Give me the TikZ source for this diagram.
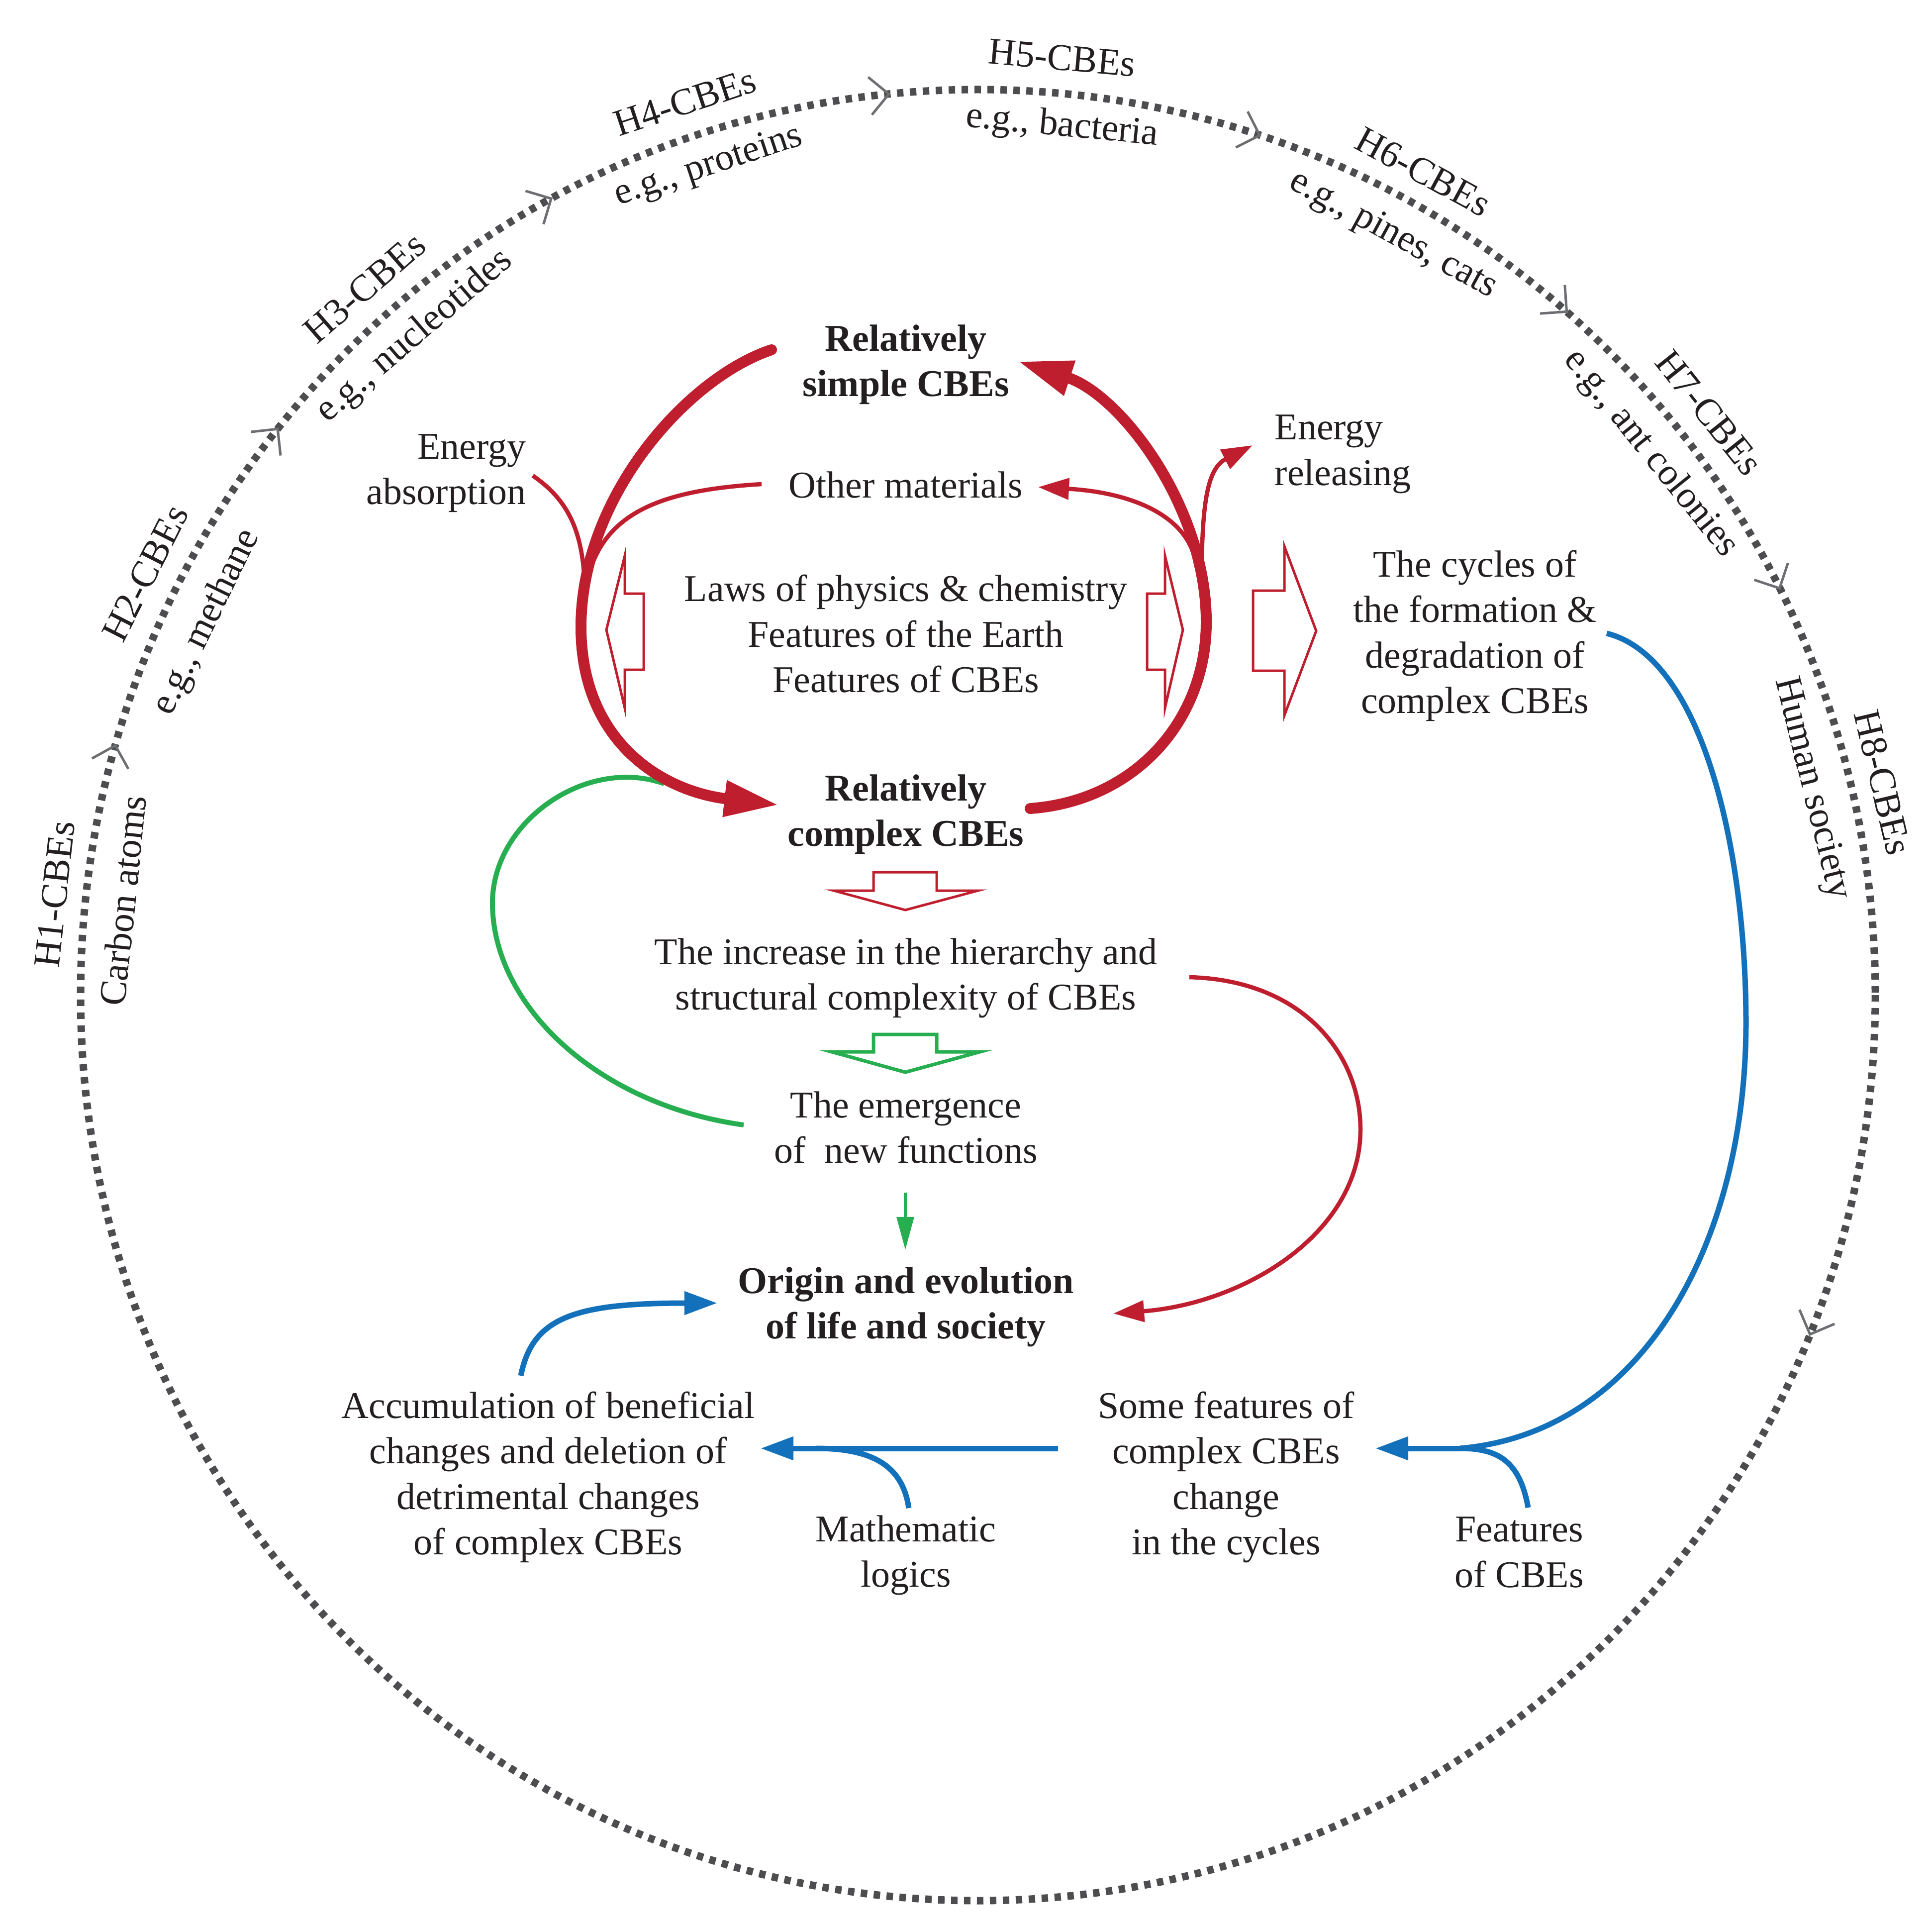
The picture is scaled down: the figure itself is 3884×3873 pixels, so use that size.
\documentclass[tikz,border=0pt]{standalone}
\usepackage{fontspec}
\setmainfont{Liberation Serif}
\usetikzlibrary{arrows.meta}
\definecolor{cred}{RGB}{190,30,45}
\definecolor{cblue}{RGB}{18,113,186}
\definecolor{cgreen}{RGB}{39,174,80}
\definecolor{cgray}{RGB}{77,77,79}
\definecolor{cchev}{RGB}{109,110,113}
\definecolor{ctext}{RGB}{35,31,32}
\tikzset{
  txt/.style={font=\fontsize{21.6}{26}\selectfont, text=ctext, inner sep=0pt, align=center},
  btxt/.style={txt, font=\fontsize{21.6}{26}\selectfont\bfseries},
  thickred/.style={draw=cred, line width=0.22cm, line cap=round},
  thinred/.style={draw=cred, line width=0.085cm},
  blueline/.style={draw=cblue, line width=0.11cm},
  greenline/.style={draw=cgreen, line width=0.1cm},
  greenthin/.style={draw=cgreen, line width=0.06cm},
  hollowred/.style={draw=cred, fill=white, line width=0.05cm, line join=miter},
  hollowgreen/.style={draw=cgreen, fill=white, line width=0.07cm, line join=miter},
  dotring/.style={draw=cgray, line width=0.15cm, dash pattern=on 0.13cm off 0.13cm},
  chev/.style={draw=cchev, line width=0.05cm},
  bigtip/.tip={Triangle[length=1.1cm, width=0.68cm]},
  thintip/.tip={Triangle[length=0.62cm, width=0.42cm]},
  bluetip/.tip={Triangle[length=0.66cm, width=0.45cm]},
  greentip/.tip={Triangle[length=0.66cm, width=0.34cm]},
}
\begin{document}
\begin{tikzpicture}[x=0.01cm, y=-0.01cm]
\useasboundingbox (0,0) rectangle (3884,3873);

% outer dotted ring
\coordinate (C) at (1966,2000);
\draw[dotring] (C) ellipse [x radius=1804, y radius=1820];

% chevrons on the ring (clockwise travel)
\foreach \a in {164.0,141.3,118.4,95.7,71.7,49.0,26.7,-22.0}{
  \draw[chev, shift={({1966+1804*cos(\a)},{2000-1820*sin(\a)})}, rotate=\a-90]
    (-38,-38) -- (0,0) -- (-38,38);
}

% ring labels
\node[txt, rotate=83.7] (h1) at (110,1797) {H1-CBEs};
\node[txt, rotate=84] (h1e) at (247,1810) {Carbon atoms};
\node[txt, rotate=63] (h2) at (292,1152) {H2-CBEs};
\node[txt, rotate=64] (h2e) at (416,1251) {e.g., methane};
\node[txt, rotate=41] (h3) at (733,578) {H3-CBEs};
\node[txt, rotate=40.6] (h3e) at (834,676) {e.g., nucleotides};
\node[txt, rotate=18.2] (h4) at (1377,205) {H4-CBEs};
\node[txt, rotate=18.2] (h4e) at (1425,335) {e.g., proteins};
\node[txt, rotate=-5.1] (h5) at (2135,116) {H5-CBEs};
\node[txt, rotate=-5.5] (h5e) at (2135,255) {e.g., bacteria};
\node[txt, rotate=-28.5] (h6) at (2861,345) {H6-CBEs};
\node[txt, rotate=-28.6] (h6e) at (2800,473) {e.g., pines, cats};
\node[txt, rotate=-51.5] (h7) at (3436,830) {H7-CBEs};
\node[txt, rotate=-51.1] (h7e) at (3318,912) {e.g., ant colonies};
\node[txt, rotate=-76.7] (h8) at (3785,1573) {H8-CBEs};
\node[txt, rotate=-76] (h8e) at (3641,1585) {Human society};

% central texts
\node[btxt] (simple) at (1821,733) {Relatively\\simple CBEs};
\node[txt, anchor=east, align=right] (eabs) at (1058,951) {Energy\\absorption};
\node[txt] (other) at (1821,975) {Other materials};
\node[txt, anchor=west, align=left] (erel) at (2562,913) {Energy\\releasing};
\node[txt] (laws) at (1821,1274) {Laws of physics \& chemistry\\Features of the Earth\\Features of CBEs};
\node[txt] (cycles) at (2965,1278) {The cycles of\\the formation \&\\degradation of\\complex CBEs};
\node[btxt] (complex) at (1821,1637) {Relatively\\complex CBEs};
\node[txt] (increase) at (1821,1966) {The increase in the hierarchy and\\structural complexity of CBEs};
\node[txt] (emerg) at (1821,2266) {The emergence\\of\ \ new functions};
\node[btxt] (origin) at (1821,2627) {Origin and evolution\\of life and society};
\node[txt] (accum) at (1102,2969) {Accumulation of beneficial\\changes and deletion of\\detrimental changes\\of complex CBEs};
\node[txt] (somef) at (2465,2969) {Some features of\\complex CBEs\\change\\in the cycles};
\node[txt] (math) at (1821,3126) {Mathematic\\logics};
\node[txt] (featc) at (3054,3120) {Features\\of CBEs};

% connector end points
\coordinate (sA) at (1551,703);
\coordinate (tA) at (1566,1618);
\coordinate (sB) at (2071,1625);
\coordinate (tB) at (2046,726);
\coordinate (eaS) at (1071,956);
\coordinate (eaE) at (1176,1200);
\coordinate (omL) at (1531,973);
\coordinate (omLE) at (1180,1170);
\coordinate (omRS) at (2405,1140);
\coordinate (omR) at (2087,979);
\coordinate (erS) at (2416,1130);
\coordinate (erT) at (2518,895);
\coordinate (emL) at (1495,2261);
\coordinate (gEnd) at (1335,1575);
\coordinate (emB) at (1820,2397);
\coordinate (orT) at (1820,2512);
\coordinate (incR) at (2391,1964);
\coordinate (orR) at (2238,2640);
\coordinate (accT) at (1047,2765);
\coordinate (orL) at (1442,2619);
\coordinate (sfL) at (2127,2911);
\coordinate (acR) at (1529,2911);
\coordinate (mathT) at (1827,3031);
\coordinate (mM) at (1640,2911);
\coordinate (featT) at (3072,3030);
\coordinate (mF) at (2935,2911);
\coordinate (sfR) at (2765,2911);
\coordinate (cycR) at (3230,1273);

% hollow block arrows
\draw[hollowred] (1256,1117) -- (1256,1193) -- (1294,1193) -- (1294,1346) -- (1256,1346) -- (1256,1423) -- (1219,1266) -- cycle;
\draw[hollowred] (2342,1117) -- (2342,1193) -- (2306,1193) -- (2306,1346) -- (2342,1346) -- (2342,1423) -- (2378,1266) -- cycle;
\draw[hollowred] (2519,1187) -- (2582,1187) -- (2582,1098) -- (2646,1268) -- (2582,1438) -- (2582,1348) -- (2519,1348) -- cycle;
\draw[hollowred] (1756,1753) -- (1883,1753) -- (1883,1790) -- (1966,1790) -- (1820,1829) -- (1676,1790) -- (1756,1790) -- cycle;
\draw[hollowgreen] (1756,2079) -- (1883,2079) -- (1883,2114) -- (1970,2114) -- (1820,2155) -- (1672,2114) -- (1756,2114) -- cycle;

% green feedback curve and arrow
\draw[greenline] (emL) .. controls (1200,2220) and (990,2020) .. (990,1815)
  .. controls (990,1650) and (1180,1520) .. (gEnd);
\draw[greenthin, -{greentip}] (emB) -- (orT);

% thin red branches
\draw[thinred] (eaS) .. controls (1150,1010) and (1175,1080) .. (eaE);
\draw[thinred] (omL) .. controls (1330,985) and (1210,1030) .. (omLE);
\draw[thinred, -{thintip}] (omRS) .. controls (2395,1040) and (2280,990) .. (omR);
\draw[thinred, -{thintip}] (erS) .. controls (2418,1000) and (2430,940) .. (erT);

% thick red cycle
\draw[thickred, -{bigtip}] (sA) .. controls (1380,760) and (1168,1000) .. (1168,1260)
  .. controls (1168,1490) and (1330,1590) .. (tA);
\draw[thickred, -{bigtip}] (sB) .. controls (2280,1610) and (2425,1450) .. (2425,1250)
  .. controls (2425,1020) and (2254,794) .. (tB);

% red curve to origin
\draw[thinred, -{thintip}] (incR) .. controls (2620,1970) and (2735,2120) .. (2735,2270)
  .. controls (2735,2480) and (2500,2620) .. (orR);

% blue connectors
\draw[blueline, -{bluetip}] (accT) .. controls (1070,2650) and (1150,2619) .. (orL);
\draw[blueline, -{bluetip}] (sfL) -- (acR);
\draw[blueline] (mathT) .. controls (1815,2950) and (1760,2911) .. (mM);
\draw[blueline, -{bluetip}] (mF) -- (sfR);
\draw[blueline] (featT) .. controls (3055,2935) and (3010,2911) .. (mF);
\draw[blueline] (cycR) .. controls (3420,1320) and (3510,1700) .. (3510,2056)
  .. controls (3510,2500) and (3300,2880) .. (mF);
\end{tikzpicture}
\end{document}
